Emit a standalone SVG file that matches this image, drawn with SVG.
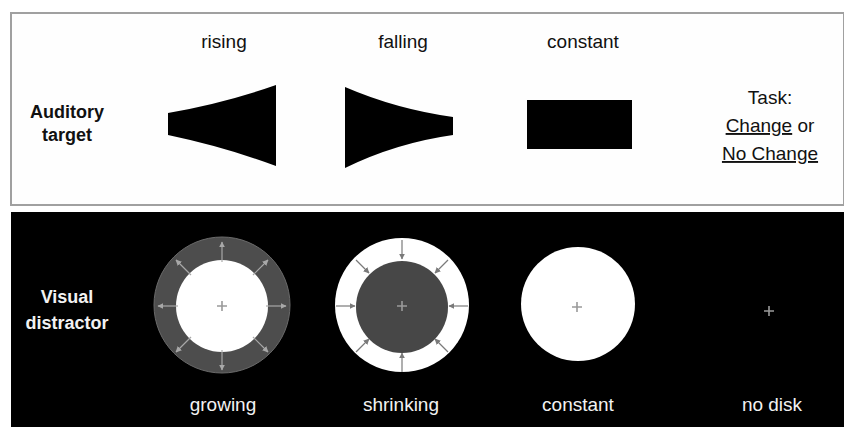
<svg xmlns="http://www.w3.org/2000/svg" width="844" height="427" viewBox="0 0 844 427">
  <style>
    .lbl { font-family: "Liberation Sans", Arial, sans-serif; font-size: 19px; text-anchor: middle; }
    .head { font-family: "Liberation Sans", Arial, sans-serif; font-size: 18px; font-weight: bold; text-anchor: middle; }
    .dark { fill: #111; }
    .light { fill: #f2f2f2; }
    .ul { text-decoration: underline; }
    .plus { stroke: #9a9a9a; stroke-width: 1.6; fill: none; }
    .arrG { stroke: #a8a8a8; stroke-width: 1.2; fill: none; marker-end: url(#tipG); }
    .arrS { stroke: #7a7a7a; stroke-width: 1.2; fill: none; marker-end: url(#tipS); }
  </style>
  <defs>
    <marker id="tipG" viewBox="0 0 10 10" refX="9" refY="5" markerWidth="5" markerHeight="5" orient="auto">
      <path d="M0,0 L10,5 L0,10 Z" fill="#a8a8a8"/>
    </marker>
    <marker id="tipS" viewBox="0 0 10 10" refX="9" refY="5" markerWidth="5" markerHeight="5" orient="auto">
      <path d="M0,0 L10,5 L0,10 Z" fill="#7a7a7a"/>
    </marker>
    <path id="cross" d="M-5,0 H5 M0,-5 V5"/>
  </defs>

  <rect width="844" height="427" fill="#ffffff"/>

  <!-- auditory panel -->
  <g id="auditory-panel">
    <rect x="11" y="13" width="833" height="192" fill="#fefefe" stroke="#a0a0a0" stroke-width="2"/>
    <text class="head dark" x="67" y="118">Auditory</text>
    <text class="head dark" x="67" y="141">target</text>
  </g>

  <g id="tone-rising">
    <text class="lbl dark" x="224" y="48">rising</text>
    <path d="M168,113 Q225,103 276,85 L276,166 Q225,147 168,135 Z" fill="#000"/>
  </g>

  <g id="tone-falling">
    <text class="lbl dark" x="403" y="48">falling</text>
    <path d="M345,87 Q396,109 453,117 L453,135 Q396,143 345,168 Z" fill="#000"/>
  </g>

  <g id="tone-constant">
    <text class="lbl dark" x="583" y="48">constant</text>
    <rect x="527" y="100" width="105" height="49" fill="#000"/>
  </g>

  <g id="task">
    <text class="lbl dark" x="770" y="104">Task:</text>
    <text class="lbl dark" x="770" y="132"><tspan class="ul">Change</tspan> or</text>
    <text class="lbl dark ul" x="770" y="160">No Change</text>
  </g>

  <!-- visual panel -->
  <g id="visual-panel">
    <rect x="11" y="212" width="833" height="215" fill="#000"/>
    <text class="head light" x="67" y="303">Visual</text>
    <text class="head light" x="67" y="329">distractor</text>
  </g>

  <g id="disk-growing">
    <circle cx="222" cy="305" r="68" fill="#4d4d4d" stroke="#6a6a6a" stroke-width="1"/>
    <circle cx="222" cy="306" r="46" fill="#fff"/>
    <g transform="translate(222,306)">
      <use href="#cross" class="plus"/>
      <line class="arrG" x1="0" y1="-44" x2="0" y2="-64"/>
      <line class="arrG" x1="31" y1="-31" x2="46" y2="-46"/>
      <line class="arrG" x1="44" y1="0" x2="64" y2="0"/>
      <line class="arrG" x1="31" y1="31" x2="46" y2="46"/>
      <line class="arrG" x1="0" y1="44" x2="0" y2="64"/>
      <line class="arrG" x1="-31" y1="31" x2="-46" y2="46"/>
      <line class="arrG" x1="-44" y1="0" x2="-64" y2="0"/>
      <line class="arrG" x1="-31" y1="-31" x2="-46" y2="-46"/>
    </g>
    <text class="lbl light" x="223" y="411">growing</text>
  </g>

  <g id="disk-shrinking">
    <circle cx="402" cy="305" r="67" fill="#fff"/>
    <circle cx="402" cy="307" r="46" fill="#474747"/>
    <g transform="translate(402,306)">
      <use href="#cross" class="plus"/>
      <line class="arrS" x1="0" y1="-66" x2="0" y2="-47"/>
      <line class="arrS" x1="46" y1="-46" x2="33" y2="-33"/>
      <line class="arrS" x1="66" y1="0" x2="47" y2="0"/>
      <line class="arrS" x1="46" y1="46" x2="33" y2="33"/>
      <line class="arrS" x1="0" y1="66" x2="0" y2="47"/>
      <line class="arrS" x1="-46" y1="46" x2="-33" y2="33"/>
      <line class="arrS" x1="-66" y1="0" x2="-47" y2="0"/>
      <line class="arrS" x1="-46" y1="-46" x2="-33" y2="-33"/>
    </g>
    <text class="lbl light" x="401" y="411">shrinking</text>
  </g>

  <g id="disk-constant">
    <circle cx="578" cy="304" r="57" fill="#fff"/>
    <use href="#cross" class="plus" transform="translate(577,307)"/>
    <text class="lbl light" x="578" y="411">constant</text>
  </g>

  <g id="disk-none">
    <use href="#cross" class="plus" transform="translate(769,311)"/>
    <text class="lbl light" x="772" y="411">no disk</text>
  </g>
</svg>
